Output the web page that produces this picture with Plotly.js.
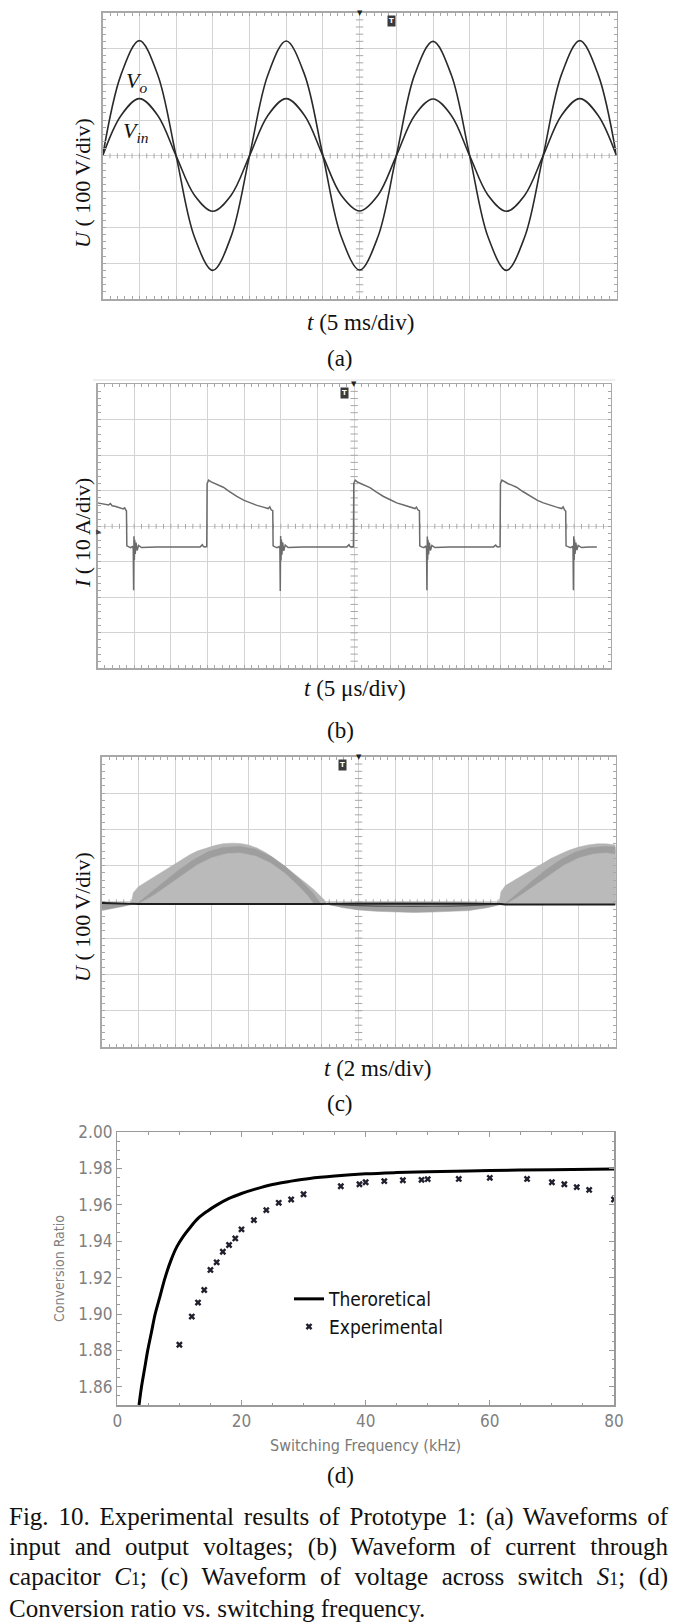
<!DOCTYPE html>
<html>
<head>
<meta charset="utf-8">
<script src="https://cdn.plot.ly/plotly-3.0.1.min.js"></script>
<style>
  html, body { margin: 0; padding: 0; background: #fff; }
  body { width: 688px; height: 1622px; position: relative; overflow: hidden; }
  #chart { position: absolute; left: 0; top: 0; width: 688px; height: 1622px; }
  #caption {
    position: absolute; left: 9px; top: 1502px; width: 659px;
    font-family: "Liberation Serif", "Times New Roman", serif;
    font-size: 25px; line-height: 30px; color: #111;
  }
  #caption .j { text-align: justify; text-align-last: justify; }
  #caption .s { font-size: 0.72em; }
</style>
</head>
<body>
<div id="chart"></div>
<div id="caption">
  <div class="j">Fig. 10. Experimental results of Prototype 1: (a) Waveforms of</div>
  <div class="j">input and output voltages; (b) Waveform of current through</div>
  <div class="j">capacitor <i>C</i><span class="s">1</span>; (c) Waveform of voltage across switch <i>S</i><span class="s">1</span>; (d)</div>
  <div>Conversion ratio vs. switching frequency.</div>
</div>
<script>
// ---- (a) input / output voltage, in divisions (t: 5 ms/div, U: 100 V/div)
var tA = [0, 0.5, 1, 1.5, 2, 2.5, 3, 3.5, 4, 4.5, 5, 5.5, 6, 6.5, 7, 7.5, 8, 8.5, 9, 9.5, 10, 10.5, 11, 11.5, 12, 12.5, 13, 13.5, 14];
var vOut = [0, 2.27, 3.22, 2.26, 0, -2.27, -3.2, -2.25, 0, 2.26, 3.21, 2.27, 0.01, -2.26, -3.19, -2.26, 0, 2.27, 3.2, 2.26, 0, -2.27, -3.2, -2.26, 0, 2.27, 3.22, 2.27, 0];
var vIn = [0, 1.13, 1.6, 1.13, 0, -1.1, -1.55, -1.1, 0, 1.13, 1.6, 1.13, 0, -1.1, -1.54, -1.1, 0, 1.13, 1.59, 1.13, 0, -1.1, -1.55, -1.1, 0, 1.13, 1.6, 1.13, 0];

// ---- (b) capacitor current, in divisions (t: 5 us/div, I: 10 A/div)
var tB = [
  0, 0.1, 0.2, 0.3, 0.35, 0.4, 0.5, 0.6, 0.7, 0.74, 0.77, 0.79, 0.8, 0.85, 0.9, 0.95, 0.975, 0.985, 0.995, 1.005, 1.015, 1.03, 1.05, 1.08, 1.12, 1.2, 1.6, 2.0, 2.4, 2.8, 2.86, 2.89, 2.93, 2.98,
  2.99, 3.03, 3.1, 3.2, 3.3, 3.43, 3.6, 3.8, 4.0, 4.16, 4.35, 4.52, 4.66, 4.7, 4.74, 4.78, 4.79, 4.84, 4.9, 4.95, 4.975, 4.985, 4.995, 5.005, 5.015, 5.03, 5.05, 5.08, 5.12, 5.2, 5.6, 6.0, 6.4, 6.8, 6.86, 6.89, 6.93, 6.98,
  6.99, 7.03, 7.1, 7.2, 7.3, 7.43, 7.6, 7.8, 8.0, 8.16, 8.35, 8.52, 8.66, 8.7, 8.74, 8.78, 8.79, 8.84, 8.9, 8.95, 8.975, 8.985, 8.995, 9.005, 9.015, 9.03, 9.05, 9.08, 9.12, 9.2, 9.6, 10.0, 10.4, 10.8, 10.86, 10.89, 10.93, 10.98,
  10.99, 11.03, 11.1, 11.2, 11.3, 11.43, 11.6, 11.8, 12.0, 12.16, 12.35, 12.52, 12.66, 12.7, 12.74, 12.77, 12.78, 12.83, 12.9, 12.95, 12.97, 12.98, 12.99, 13.0, 13.01, 13.025, 13.045, 13.075, 13.11, 13.2, 13.4, 13.62
];
var iB = [
  0.66, 0.64, 0.62, 0.6, 0.64, 0.58, 0.56, 0.53, 0.49, 0.52, 0.46, 0.43, -0.55, -0.58, -0.6, -0.57, -0.63, -1.8, -0.28, -0.95, -0.38, -0.78, -0.46, -0.68, -0.54, -0.6, -0.58, -0.58, -0.58, -0.58, -0.52, -0.57, -0.58, -0.57,
  1.2, 1.3, 1.25, 1.2, 1.16, 1.1, 0.98, 0.84, 0.73, 0.66, 0.59, 0.54, 0.5, 0.55, 0.46, 0.44, -0.55, -0.58, -0.6, -0.57, -0.63, -1.82, -0.27, -0.96, -0.37, -0.8, -0.45, -0.69, -0.53, -0.6, -0.58, -0.58, -0.57, -0.58, -0.52, -0.57, -0.58, -0.57,
  1.21, 1.3, 1.24, 1.2, 1.15, 1.09, 0.97, 0.84, 0.74, 0.66, 0.6, 0.54, 0.5, 0.54, 0.46, 0.44, -0.55, -0.58, -0.6, -0.56, -0.63, -1.8, -0.29, -0.94, -0.38, -0.79, -0.46, -0.68, -0.54, -0.6, -0.58, -0.57, -0.58, -0.58, -0.53, -0.57, -0.58, -0.57,
  1.2, 1.3, 1.25, 1.2, 1.16, 1.1, 0.98, 0.85, 0.73, 0.66, 0.59, 0.54, 0.5, 0.55, 0.46, 0.43, -0.55, -0.58, -0.6, -0.57, -0.63, -1.8, -0.28, -0.95, -0.37, -0.78, -0.46, -0.67, -0.54, -0.6, -0.58, -0.58
];

// ---- (c) switch voltage envelope, in divisions (t: 2 ms/div, U: 100 V/div)
var hump1OuterT = [0.8, 0.86, 1.0, 1.25, 1.5, 1.75, 1.95, 2.2, 2.4, 2.6, 2.85, 3.1, 3.3, 3.55, 3.77, 4.0, 4.22, 4.45, 4.68, 4.9, 5.12, 5.35, 5.58, 5.8, 5.94, 6.07, 6.12];
var hump1OuterU = [-0.06, 0.25, 0.42, 0.58, 0.72, 0.88, 1.02, 1.18, 1.3, 1.4, 1.49, 1.56, 1.6, 1.62, 1.61, 1.57, 1.49, 1.37, 1.22, 1.05, 0.88, 0.69, 0.51, 0.32, 0.19, 0.05, -0.06];
var hump1BandT = [0.95, 1.3, 1.7, 2.1, 2.5, 2.9, 3.3, 3.77, 4.2, 4.6, 5.0, 5.4, 5.75, 5.98];
var hump1BandU = [-0.06, 0.22, 0.55, 0.88, 1.16, 1.38, 1.5, 1.53, 1.45, 1.26, 0.98, 0.62, 0.25, -0.06];
var hump1InnerT = [1.0, 1.4, 1.8, 2.2, 2.6, 3.0, 3.4, 3.77, 4.2, 4.6, 5.0, 5.35, 5.6, 5.78];
var hump1InnerU = [-0.06, 0.17, 0.45, 0.74, 1.02, 1.22, 1.33, 1.35, 1.26, 1.07, 0.78, 0.45, 0.18, -0.06];
var hump2OuterT = [10.82, 10.88, 11.0, 11.25, 11.5, 11.75, 12.0, 12.25, 12.5, 12.75, 13.0, 13.25, 13.5, 13.75, 14.0, 14.0];
var hump2OuterU = [-0.07, 0.28, 0.45, 0.6, 0.74, 0.9, 1.06, 1.2, 1.32, 1.43, 1.51, 1.57, 1.6, 1.6, 1.57, -0.07];
var hump2BandT = [10.97, 11.3, 11.7, 12.1, 12.5, 12.9, 13.3, 13.7, 14.0, 14.0];
var hump2BandU = [-0.07, 0.22, 0.55, 0.88, 1.16, 1.37, 1.49, 1.53, 1.51, -0.07];
var hump2InnerT = [11.02, 11.4, 11.8, 12.2, 12.6, 13.0, 13.4, 13.75, 14.0, 14.0];
var hump2InnerU = [-0.07, 0.17, 0.45, 0.74, 1.01, 1.21, 1.32, 1.35, 1.31, -0.07];
var lensLeftT = [0, 0.9, 0.6, 0.3, 0];
var lensLeftU = [-0.01, -0.05, -0.12, -0.18, -0.24];
var lensMidT = [6.0, 7.0, 8.0, 9.0, 10.0, 10.95, 10.5, 10.0, 9.5, 9.0, 8.5, 8.0, 7.5, 7.0, 6.5];
var lensMidU = [-0.05, -0.01, 0.0, 0.0, -0.01, -0.06, -0.16, -0.24, -0.27, -0.28, -0.29, -0.28, -0.26, -0.22, -0.15];
var lensCoreT = [6.2, 7.0, 8.0, 9.0, 10.0, 10.8];
var lensCoreU = [-0.07, -0.1, -0.12, -0.12, -0.1, -0.07];
var baseT = [0, 0.8, 1.0, 6.0, 6.2, 10.8, 11.0, 14];
var baseU = [-0.03, -0.04, -0.06, -0.06, -0.05, -0.05, -0.07, -0.07];

// ---- (d) conversion ratio vs switching frequency
var fTheo = [3.5, 3.9, 4.4, 4.9, 5.5, 6.1, 6.9, 7.7, 8.7, 9.6, 10.6, 11.6, 13.0, 14.5, 16.0, 18.0, 20.0, 22.2, 25.0, 28.0, 31.0, 35.0, 40.0, 45.0, 50.0, 60.0, 70.0, 80.0];
var gTheo = [1.85, 1.86, 1.87, 1.88, 1.89, 1.90, 1.91, 1.92, 1.93, 1.937, 1.9425, 1.947, 1.9525, 1.9565, 1.9598, 1.9635, 1.9662, 1.9686, 1.9712, 1.973, 1.9745, 1.9758, 1.977, 1.9777, 1.9782, 1.9788, 1.9793, 1.9797];
var fExp = [10, 12, 13, 14, 15, 16, 17, 18, 19, 20, 22, 24, 26, 28, 30, 36, 39, 40, 43, 46, 49, 50, 55, 60, 66, 70, 72, 74, 76, 80];
var gExp = [1.8831, 1.8986, 1.9063, 1.9132, 1.9242, 1.9284, 1.9342, 1.9379, 1.9415, 1.9465, 1.9516, 1.9571, 1.9611, 1.9629, 1.9658, 1.9702, 1.9713, 1.9724, 1.973, 1.9735, 1.9737, 1.9741, 1.9742, 1.9748, 1.9742, 1.9724, 1.9713, 1.9697, 1.9682, 1.9629];

var W = 688, H = 1622;
var SERIF = '"Liberation Serif", "Times New Roman", serif';
var NARROW = '"Liberation Sans Narrow", "Arial Narrow", "DejaVu Sans Condensed", "Liberation Sans", sans-serif';

function px(x) { return x / W; }
function py(y) { return 1 - y / H; }

// pixel boxes of the four frames
var boxA = { l: 102.7, r: 616.5, t: 12.7, b: 299 };
var boxB = { l: 97.5, r: 610.8, t: 384.3, b: 668.3 };
var boxC = { l: 101.7, r: 615.5, t: 756.8, b: 1047 };
var boxD = { l: 117.3, r: 614, t: 1132, b: 1405 };

function scopeAxis(box, isX, anchor) {
  return {
    domain: isX ? [px(box.l), px(box.r)] : [py(box.b), py(box.t)],
    anchor: anchor,
    range: isX ? [0, 14] : [-4, 4],
    dtick: 1,
    showgrid: true,
    gridcolor: "#d3d3d3",
    gridwidth: 1,
    zeroline: false,
    showline: true,
    linecolor: "#a8a8a8",
    linewidth: 1.5,
    mirror: "ticks",
    ticks: "inside",
    ticklen: 3,
    tickcolor: "#a8a8a8",
    minor: { dtick: 0.2, ticks: "inside", ticklen: 3, tickcolor: "#a8a8a8", showgrid: false },
    showticklabels: false,
    fixedrange: true
  };
}

// small cross ticks on the centre lines of a scope screen
function centreTicks(xa, ya) {
  var p = "";
  for (var i = 1; i < 70; i++) {
    p += "M" + (i / 5) + ",-0.07L" + (i / 5) + ",0.07";
  }
  for (var j = -19; j < 20; j++) {
    p += "M6.9," + (j / 5) + "L7.1," + (j / 5);
  }
  return { type: "path", xref: xa, yref: ya, path: p, layer: "between", line: { color: "#a8a8a8", width: 1 } };
}

function trigMark(xa, ya, x, y) {
  return { xref: xa, yref: ya, x: x, y: y, text: "<b>T</b>", showarrow: false,
    font: { family: "DejaVu Sans", size: 7, color: "#fff" }, bgcolor: "#3a3a3a", borderpad: 1 };
}
function topMark(xa, ya) {
  return { xref: xa, yref: ya, x: 7, y: 4, yanchor: "middle", text: "\u25BC", showarrow: false,
    font: { family: "DejaVu Sans", size: 7, color: "#222" } };
}
function textAt(x, y, text, size, angle) {
  return { xref: "paper", yref: "paper", x: px(x), y: py(y), xanchor: "center", yanchor: "middle",
    text: text, showarrow: false, textangle: angle || 0, font: { family: SERIF, size: size, color: "#111" } };
}

function poly(xa, ya, t, u, color) {
  return { x: t, y: u, xaxis: xa, yaxis: ya, mode: "lines", fill: "toself", fillcolor: color,
    line: { color: color, width: 0.5 }, hoverinfo: "skip", showlegend: false };
}

var data = [
  { x: tA, y: vOut, xaxis: "x", yaxis: "y", mode: "lines", line: { color: "#2a2a2a", width: 1.6, shape: "spline" }, showlegend: false },
  { x: tA, y: vIn, xaxis: "x", yaxis: "y", mode: "lines", line: { color: "#2a2a2a", width: 1.6, shape: "spline" }, showlegend: false },

  { x: tB, y: iB, xaxis: "x2", yaxis: "y2", mode: "lines", line: { color: "#6b6b6b", width: 1.5 }, showlegend: false },

  poly("x3", "y3", hump1OuterT, hump1OuterU, "#b4b4b4"),
  poly("x3", "y3", hump1BandT, hump1BandU, "#9e9e9e"),
  poly("x3", "y3", hump1InnerT, hump1InnerU, "#bababa"),
  poly("x3", "y3", hump2OuterT, hump2OuterU, "#b4b4b4"),
  poly("x3", "y3", hump2BandT, hump2BandU, "#9e9e9e"),
  poly("x3", "y3", hump2InnerT, hump2InnerU, "#bababa"),
  poly("x3", "y3", lensLeftT, lensLeftU, "#9a9a9a"),
  poly("x3", "y3", lensMidT, lensMidU, "#a2a2a2"),
  { x: lensCoreT, y: lensCoreU, xaxis: "x3", yaxis: "y3", mode: "lines", line: { color: "#555", width: 1.2, shape: "spline" }, showlegend: false },
  { x: baseT, y: baseU, xaxis: "x3", yaxis: "y3", mode: "lines", line: { color: "#1e1e1e", width: 2 }, showlegend: false },

  { x: fTheo, y: gTheo, xaxis: "x4", yaxis: "y4", mode: "lines", name: "Theroretical",
    line: { color: "#000", width: 3, shape: "spline" } },
  { x: fExp, y: gExp, xaxis: "x4", yaxis: "y4", mode: "markers", name: "Experimental",
    marker: { symbol: "x", size: 6, color: "#20202e" } }
];

var annotations = [
  { xref: "x", yref: "y", x: 0.58, y: 2.05, xanchor: "left", yanchor: "middle", text: "<i>V<sub>o</sub></i>", showarrow: false, font: { family: SERIF, size: 22, color: "#111" } },
  { xref: "x", yref: "y", x: 0.5, y: 0.66, xanchor: "left", yanchor: "middle", text: "<i>V<sub>in</sub></i>", showarrow: false, font: { family: SERIF, size: 22, color: "#111" } },
  topMark("x", "y"), trigMark("x", "y", 7.87, 3.78),
  topMark("x2", "y2"), trigMark("x2", "y2", 6.75, 3.75),
  topMark("x3", "y3"), trigMark("x3", "y3", 6.55, 3.77),
  { xref: "paper", yref: "paper", x: px(93.5), y: py(526.3), text: "\u25B6", showarrow: false, font: { family: "DejaVu Sans", size: 7, color: "#444" } },

  textAt(82, 183, "<i>U</i> ( 100 V/div)", 22, -90),
  textAt(360, 323, "<i>t</i> (5 ms/div)", 23),
  textAt(340, 358, "(a)", 23),
  textAt(82, 533, "<i>I</i> ( 10 A/div)", 22, -90),
  textAt(355, 688, "<i>t</i> (5 \u03BCs/div)", 23),
  textAt(340, 730, "(b)", 23),
  textAt(82, 917, "<i>U</i> ( 100 V/div)", 22, -90),
  textAt(377, 1068, "<i>t</i> (2 ms/div)", 23),
  textAt(340, 1103, "(c)", 23),
  textAt(340, 1475, "(d)", 23)
];

var shapes = [
  centreTicks("x", "y"), centreTicks("x2", "y2"), centreTicks("x3", "y3"),
  { type: "line", xref: "paper", yref: "paper", x0: px(93), x1: px(615), y0: py(380), y1: py(380), line: { color: "#dedede", width: 1 } }
];

var layout = {
  width: W,
  height: H,
  margin: { l: 0, r: 0, t: 0, b: 0 },
  paper_bgcolor: "#fff",
  plot_bgcolor: "#fff",
  xaxis: scopeAxis(boxA, true, "y"),
  yaxis: scopeAxis(boxA, false, "x"),
  xaxis2: scopeAxis(boxB, true, "y2"),
  yaxis2: scopeAxis(boxB, false, "x2"),
  xaxis3: scopeAxis(boxC, true, "y3"),
  yaxis3: scopeAxis(boxC, false, "x3"),
  xaxis4: {
    domain: [px(boxD.l), px(boxD.r)],
    anchor: "y4",
    range: [0, 80],
    dtick: 20,
    ticks: "inside",
    ticklen: 5,
    tickcolor: "#999",
    minor: { dtick: 5, ticks: "inside", ticklen: 2.5, tickcolor: "#999" },
    showline: true,
    linecolor: "#9a9a9a",
    linewidth: 1.5,
    mirror: "ticks",
    showgrid: false,
    zeroline: false,
    tickfont: { family: NARROW, size: 17, color: "#808080" },
    title: { text: "Switching Frequency (kHz)", font: { family: NARROW, size: 16, color: "#7a7a7a" }, standoff: 10 },
    fixedrange: true
  },
  yaxis4: {
    domain: [py(boxD.b), py(boxD.t)],
    anchor: "x4",
    range: [1.85, 2.0],
    dtick: 0.02,
    tickformat: ".2f",
    ticks: "inside",
    ticklen: 5,
    tickcolor: "#999",
    minor: { dtick: 0.005, ticks: "inside", ticklen: 2.5, tickcolor: "#999" },
    showline: true,
    linecolor: "#9a9a9a",
    linewidth: 1.5,
    mirror: "ticks",
    showgrid: false,
    zeroline: false,
    tickfont: { family: NARROW, size: 17, color: "#808080" },
    title: { text: "Conversion Ratio", font: { family: NARROW, size: 14, color: "#7f7f7f" }, standoff: 10 },
    fixedrange: true
  },
  showlegend: true,
  legend: {
    x: px(289), y: py(1280), xanchor: "left", yanchor: "top",
    bgcolor: "rgba(0,0,0,0)",
    font: { family: NARROW, size: 19, color: "#111" },
    itemwidth: 30,
    tracegroupgap: 0
  },
  annotations: annotations,
  shapes: shapes
};

Plotly.newPlot("chart", data, layout, { displayModeBar: false, staticPlot: true });
</script>
</body>
</html>
